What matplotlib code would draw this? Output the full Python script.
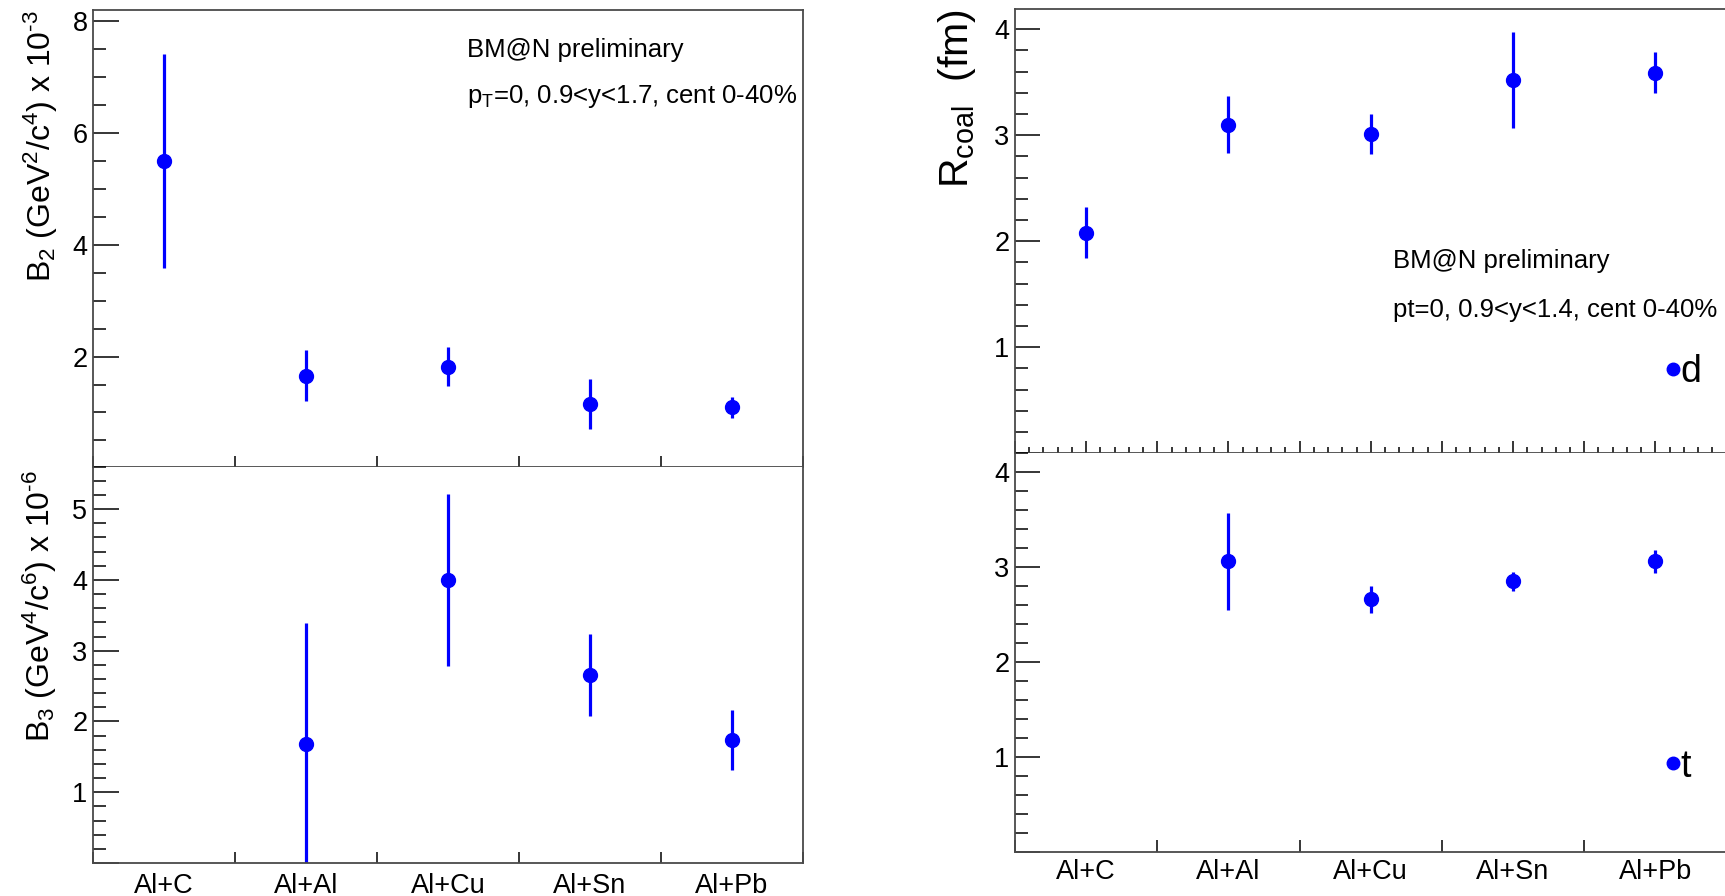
import numpy as np
import matplotlib
matplotlib.use("Agg")
import matplotlib.pyplot as plt
from matplotlib.ticker import MultipleLocator, NullFormatter, FuncFormatter
from matplotlib.lines import Line2D

# ---------------- data ----------------
systems = ["Al+C", "Al+Al", "Al+Cu", "Al+Sn", "Al+Pb"]
b2_vals = [5.50, 1.66, 1.82, 1.15, 1.09]          # x 10^-3
b2_errs = [1.92, 0.45, 0.35, 0.45, 0.18]
b3_vals = [np.nan, 1.68, 4.00, 2.66, 1.74]        # x 10^-6
b3_errs = [np.nan, 1.71, 1.22, 0.58, 0.42]
rd_vals = [2.08, 3.10, 3.01, 3.52, 3.59]          # R_coal deuteron (fm)
rd_errs = [0.24, 0.27, 0.19, 0.45, 0.19]
rt_vals = [np.nan, 3.06, 2.66, 2.85, 3.06]        # R_coal triton (fm)
rt_errs = [np.nan, 0.51, 0.14, 0.10, 0.12]

FONT = "Liberation Sans"
plt.rcParams["font.family"] = [FONT, "DejaVu Sans"]
plt.rcParams["mathtext.fontset"] = "custom"
plt.rcParams["mathtext.rm"] = FONT
plt.rcParams["mathtext.it"] = FONT + ":italic"
plt.rcParams["mathtext.bf"] = FONT + ":bold"
plt.rcParams["mathtext.default"] = "regular"

W, H = 1725, 896
fig = plt.figure(figsize=(W / 100, H / 100), dpi=100)
fig.patch.set_facecolor("white")


def px_axes(x0, y0, x1, y1):
    return fig.add_axes([x0 / W, 1 - y1 / H, (x1 - x0) / W, (y1 - y0) / H])


ax_b2 = px_axes(93, 10, 803, 466.7)
ax_b3 = px_axes(93, 466.7, 803, 863)
ax_d = px_axes(1015, 9, 1726.5, 453.3)
ax_t = px_axes(1015, 453.3, 1726.5, 851.7)

n = len(systems)
xc = np.arange(n) + 0.5
BLUE = "#0000ff"
SPINE = "#4a4a4a"
TICKFS = 19.5
no_zero = FuncFormatter(lambda v, p: "" if abs(v) < 1e-9 else "%g" % v)


def style(ax, ylim, ymajor, yminor, ymaj_len, ymin_len):
    ax.set_xlim(0, n)
    ax.set_ylim(*ylim)
    for s in ax.spines.values():
        s.set_color(SPINE)
        s.set_linewidth(1.3)
    ax.yaxis.set_major_locator(MultipleLocator(ymajor))
    ax.yaxis.set_minor_locator(MultipleLocator(yminor))
    ax.yaxis.set_major_formatter(no_zero)
    ax.tick_params(axis="y", which="major", direction="in", length=ymaj_len,
                   width=1.1, color="black", labelsize=TICKFS, pad=4,
                   left=True, right=False)
    ax.tick_params(axis="y", which="minor", direction="in", length=ymin_len,
                   width=1.1, color="black", left=True, right=False)
    ax.tick_params(axis="x", which="both", direction="in", top=False,
                   bottom=True, color="black", width=1.1)


def draw(ax, vals, errs):
    ax.errorbar(xc, vals, yerr=errs, fmt="o", color=BLUE, ms=10,
                elinewidth=2.3, capsize=0, mec=BLUE, mfc=BLUE, clip_on=True)


# ---- B2 ----
style(ax_b2, (0.03, 8.2), 2, 0.5, 18.7, 9.4)
draw(ax_b2, b2_vals, b2_errs)
ax_b2.set_xticks(np.arange(n + 1))
ax_b2.xaxis.set_major_formatter(NullFormatter())
ax_b2.tick_params(axis="x", which="major", length=8)
ax_b2.text((467 - 93) / 710, 1 - (57 - 10) / 456.7,
           "BM@N preliminary", transform=ax_b2.transAxes, fontsize=18.5,
           ha="left", va="baseline")
ax_b2.text((467 - 93) / 710, 1 - (103 - 10) / 456.7,
           r"p$_{\mathrm{T}}$=0, 0.9<y<1.7, cent 0-40%",
           transform=ax_b2.transAxes, fontsize=18.5, ha="left", va="baseline")
ax_b2.set_ylabel(r"B$_{2}$ (GeV$^{2}$/c$^{4}$) x 10$^{\text{-3}}$", fontsize=23,
                 rotation=90, rotation_mode="default", ha="center", va="top")
ax_b2.yaxis.set_label_coords((41 - 93) / 710, 1.0)

# ---- B3 ----
style(ax_b3, (0.0, 5.6), 1, 0.2, 18.7, 9.4)
draw(ax_b3, b3_vals, b3_errs)
ax_b3.set_xticks(np.arange(n + 1))
ax_b3.xaxis.set_major_formatter(NullFormatter())
ax_b3.tick_params(axis="x", which="major", length=8)
ax_b3.set_xticks(xc, labels=systems, minor=True)
ax_b3.tick_params(axis="x", which="minor", length=0, labelsize=TICKFS, pad=7)
ax_b3.spines["top"].set_visible(False)
ax_b3.set_ylabel(r"B$_{3}$ (GeV$^{4}$/c$^{6}$) x 10$^{\text{-6}}$", fontsize=23,
                 rotation=90, rotation_mode="default", ha="center", va="top")
ax_b3.yaxis.set_label_coords((40 - 93) / 710, 1 - (470 - 466.7) / 396.3)

# ---- R_coal d ----
style(ax_d, (0.0, 4.19), 1, 0.2, 18, 9.4)
draw(ax_d, rd_vals, rd_errs)
ax_d.xaxis.set_major_locator(MultipleLocator(0.5))
ax_d.xaxis.set_minor_locator(MultipleLocator(0.1))
ax_d.xaxis.set_major_formatter(NullFormatter())
ax_d.tick_params(axis="x", which="major", length=8.6)
ax_d.tick_params(axis="x", which="minor", length=4.3)
ax_d.spines["right"].set_visible(False)
ax_d.text((1393 - 1015) / 711.5, (453.3 - 268) / 444.3, "BM@N preliminary",
          transform=ax_d.transAxes, fontsize=18.5, ha="left", va="baseline")
ax_d.text((1393 - 1015) / 711.5, (453.3 - 317) / 444.3,
          "pt=0, 0.9<y<1.4, cent 0-40%", transform=ax_d.transAxes,
          fontsize=18.5, ha="left", va="baseline")
ax_d.set_ylabel(r"R$_{\mathrm{coal}}$  (fm)", fontsize=29.5,
                rotation=90, rotation_mode="default", ha="center", va="top")
ax_d.yaxis.set_label_coords((957 - 1015) / 711.5, 1.0)
hd = Line2D([], [], ls="none", marker="o", color=BLUE, ms=9)
ax_d.legend([hd], ["d"], loc="center left",
            bbox_to_anchor=((1665.5 - 1015) / 711.5, (453.3 - 372.5) / 444.3),
            frameon=False, fontsize=27, handlelength=0.4,
            handletextpad=0.0, borderpad=0, borderaxespad=0)

# ---- R_coal t ----
style(ax_t, (0.0, 4.2), 1, 0.2, 18, 9.4)
draw(ax_t, rt_vals, rt_errs)
ax_t.set_xticks(np.arange(n + 1))
ax_t.xaxis.set_major_formatter(NullFormatter())
ax_t.tick_params(axis="x", which="major", length=9)
ax_t.set_xticks(xc, labels=systems, minor=True)
ax_t.tick_params(axis="x", which="minor", length=0, labelsize=TICKFS, pad=5)
ax_t.spines["right"].set_visible(False)
ax_t.spines["top"].set_visible(False)
ht = Line2D([], [], ls="none", marker="o", color=BLUE, ms=9)
ax_t.legend([ht], ["t"], loc="center left",
            bbox_to_anchor=((1665.5 - 1015) / 711.5, (851.7 - 766.5) / 398.4),
            frameon=False, fontsize=27, handlelength=0.4,
            handletextpad=0.0, borderpad=0, borderaxespad=0)

fig.savefig("out.png", dpi=100, facecolor="white")
